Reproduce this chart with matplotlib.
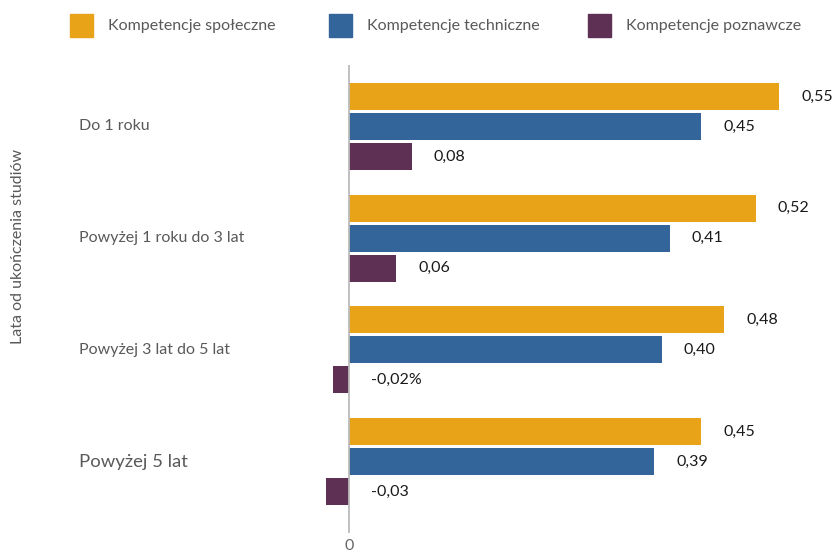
import matplotlib
matplotlib.use("Agg")
from matplotlib import pyplot as plt
from matplotlib.patches import Rectangle
import numpy as np

# data
categories = ["Do 1 roku", "Powyżej 1 roku do 3 lat", "Powyżej 3 lat do 5 lat", "Powyżej 5 lat"]
series_names = ["Kompetencje społeczne", "Kompetencje techniczne", "Kompetencje poznawcze"]
spoleczne = [0.55, 0.52, 0.48, 0.45]
techniczne = [0.45, 0.41, 0.40, 0.39]
poznawcze = [0.08, 0.06, -0.02, -0.03]
labels_spol = ["0,55", "0,52", "0,48", "0,45"]
labels_tech = ["0,45", "0,41", "0,40", "0,39"]
labels_pozn = ["0,08", "0,06", "-0,02%", "-0,03"]
colors = ["#E8A318", "#33659A", "#5E3154"]

W, H = 835, 556
fig = plt.figure(figsize=(W / 100, H / 100), dpi=100)
# axes box in pixels: left 300, right 835, top 65, bottom 533
ax = fig.add_axes([300 / W, 1 - 533 / H, 535 / W, (533 - 65) / H])

px_per_unit = 781.8
xmin = -49 / px_per_unit
ax.set_xlim(xmin, xmin + 535 / px_per_unit)
ax.set_ylim(3.639, -0.55)

y = np.arange(len(categories))
off = 0.2686
bh = 0.2417
all_vals = [spoleczne, techniczne, poznawcze]
all_labels = [labels_spol, labels_tech, labels_pozn]
for k in range(3):
    ypos = y + (k - 1) * off
    ax.barh(ypos, all_vals[k], height=bh, color=colors[k], zorder=2)
    for yy, v, lab in zip(ypos, all_vals[k], all_labels[k]):
        ax.annotate(lab, (max(v, 0), yy), xytext=(16, 0), textcoords="offset points",
                    ha="left", va="center", fontsize=11.5, family="Lato", color="#1a1a1a")

ax.axvline(0, color="#bbbbbb", lw=1.3, zorder=3)

for s in ax.spines.values():
    s.set_visible(False)
ax.set_yticks([])
ax.set_xticks([0])
ax.set_xticklabels(["0"], fontsize=11.5, family="Lato", color="#666666")
ax.tick_params(axis="x", length=0, pad=4)

txt_color = "#595959"
# category labels
for i, c in enumerate(categories):
    fs = 13.3 if i == 3 else 11.5
    ax.text(-221 / 535, i, c, transform=ax.get_yaxis_transform(), ha="left", va="center",
            fontsize=fs, family="Lato", color=txt_color)

fig.text(18 / W, 1 - 246 / H, "Lata od ukończenia studiów", rotation=90, ha="center", va="center",
         fontsize=11.5, family="Lato", color=txt_color)

# legend
leg_x = [70, 329, 588]
for x0, name, col in zip(leg_x, series_names, colors):
    fig.patches.append(Rectangle((x0 / W, 1 - 37 / H), 23 / W, 23 / H,
                                 transform=fig.transFigure, color=col))
    fig.text((x0 + 38) / W, 1 - 26 / H, name, ha="left", va="center",
             fontsize=11.5, family="Lato", color=txt_color)

fig.savefig("out.png", dpi=100)
